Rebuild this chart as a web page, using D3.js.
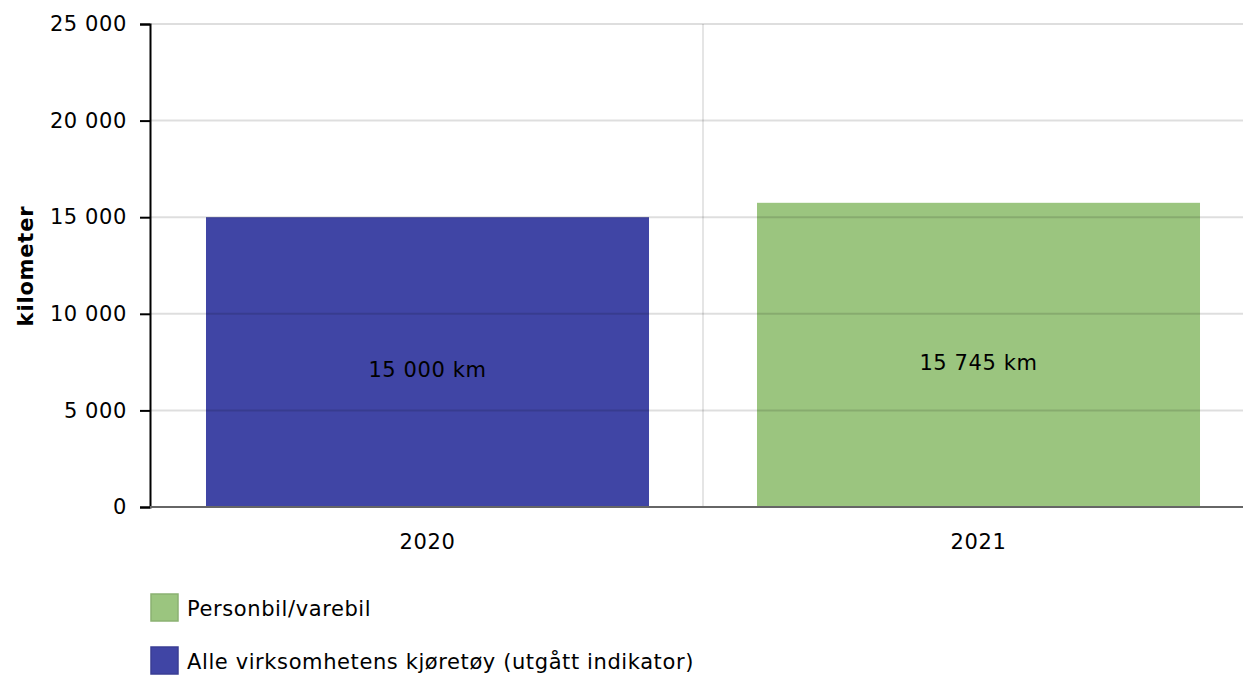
<!DOCTYPE html>
<html><head><meta charset="utf-8">
<script src="https://cdn.jsdelivr.net/npm/d3@7"></script>
<style>body{margin:0;background:#fff;} text{font-family:"DejaVu Sans",Verdana,sans-serif;}</style>
</head><body><svg id="c" width="1243" height="675"></svg>
<script>
const categories = ["2020", "2021"];
const values = [15000, 15745];
const seriesOfBar = ["Alle virksomhetens kjøretøy (utgått indikator)", "Personbil/varebil"];
const barLabels = ["15 000 km", "15 745 km"];
const yTicks = [0, 5000, 10000, 15000, 20000, 25000];
const legendItems = ["Personbil/varebil", "Alle virksomhetens kjøretøy (utgått indikator)"];
const colors = {"Personbil/varebil": "#9bc57f", "Alle virksomhetens kjøretøy (utgått indikator)": "#4045a5"};

const FS = 21, LS = 0.6;
const svg = d3.select("#c");
const x = d3.scaleBand().domain(categories).range([152, 1254]).paddingInner(0.196).paddingOuter(0.098);
const y = d3.scaleLinear().domain([0, 25000]).range([507, 24]);
const fmt = v => d3.format(",")(v).replace(/,/g, " ");

// bars
svg.selectAll("rect.bar").data(categories).enter().append("rect")
  .attr("x", d => x(d)).attr("width", x.bandwidth())
  .attr("y", (d, i) => y(values[i])).attr("height", (d, i) => y(0) - y(values[i]))
  .attr("fill", (d, i) => colors[seriesOfBar[i]]);

// gridlines over bars
const g = svg.append("g");
yTicks.filter(t => t > 0).forEach(t => {
  g.append("line").attr("x1", 150).attr("x2", 1243).attr("y1", y(t)).attr("y2", y(t))
    .attr("stroke", "#000").attr("stroke-opacity", 0.13).attr("stroke-width", 2);
});
const vx = x(categories[1]) - x.step() * x.paddingInner() / 2;
g.append("line").attr("x1", vx).attr("x2", vx)
  .attr("y1", 24).attr("y2", 507).attr("stroke", "#000").attr("stroke-opacity", 0.1).attr("stroke-width", 2);

// y axis
const ya = svg.append("g").attr("transform", "translate(150,0)")
  .call(d3.axisLeft(y).tickValues(yTicks).tickFormat(fmt).tickSizeOuter(0).tickSize(10).tickPadding(13));
ya.select(".domain").attr("stroke", "#000").attr("stroke-width", 2);
ya.selectAll(".tick line").attr("stroke", "#000").attr("stroke-width", 2);
ya.selectAll("text").attr("font-size", FS).attr("letter-spacing", LS).attr("fill", "#000").attr("font-family", "DejaVu Sans");

// x axis
svg.append("line").attr("x1", 150).attr("x2", 1243).attr("y1", 507).attr("y2", 507).attr("stroke", "#666").attr("stroke-width", 2);
const xa = svg.append("g").attr("transform", "translate(0,507)")
  .call(d3.axisBottom(x).tickSize(0).tickPadding(27));
xa.select(".domain").remove();
xa.selectAll("text").attr("font-size", FS).attr("letter-spacing", LS).attr("fill", "#000").attr("font-family", "DejaVu Sans");

// value labels
svg.selectAll("text.vl").data(categories).enter().append("text")
  .attr("x", d => x(d) + x.bandwidth() / 2)
  .attr("y", (d, i) => (y(values[i]) + y(0)) / 2 + 15)
  .attr("text-anchor", "middle").attr("font-size", FS).attr("letter-spacing", LS).attr("fill", "#000")
  .text((d, i) => barLabels[i]);

// y title
svg.append("text").attr("transform", "translate(33,266) rotate(-90)")
  .attr("text-anchor", "middle").attr("font-size", 21).attr("letter-spacing", 0.8).attr("font-weight", "bold").text("kilometer");

// legend
legendItems.forEach((s, i) => {
  const ly = 594 + i * 53;
  svg.append("rect").attr("x", 151).attr("y", ly).attr("width", 27).attr("height", 27)
    .attr("fill", colors[s]).attr("stroke", d3.color(colors[s]).darker(0.3)).attr("stroke-width", 1.5);
  svg.append("text").attr("x", 187).attr("y", ly + 22).attr("font-size", FS).attr("letter-spacing", LS).text(s);
});
</script></body></html>
